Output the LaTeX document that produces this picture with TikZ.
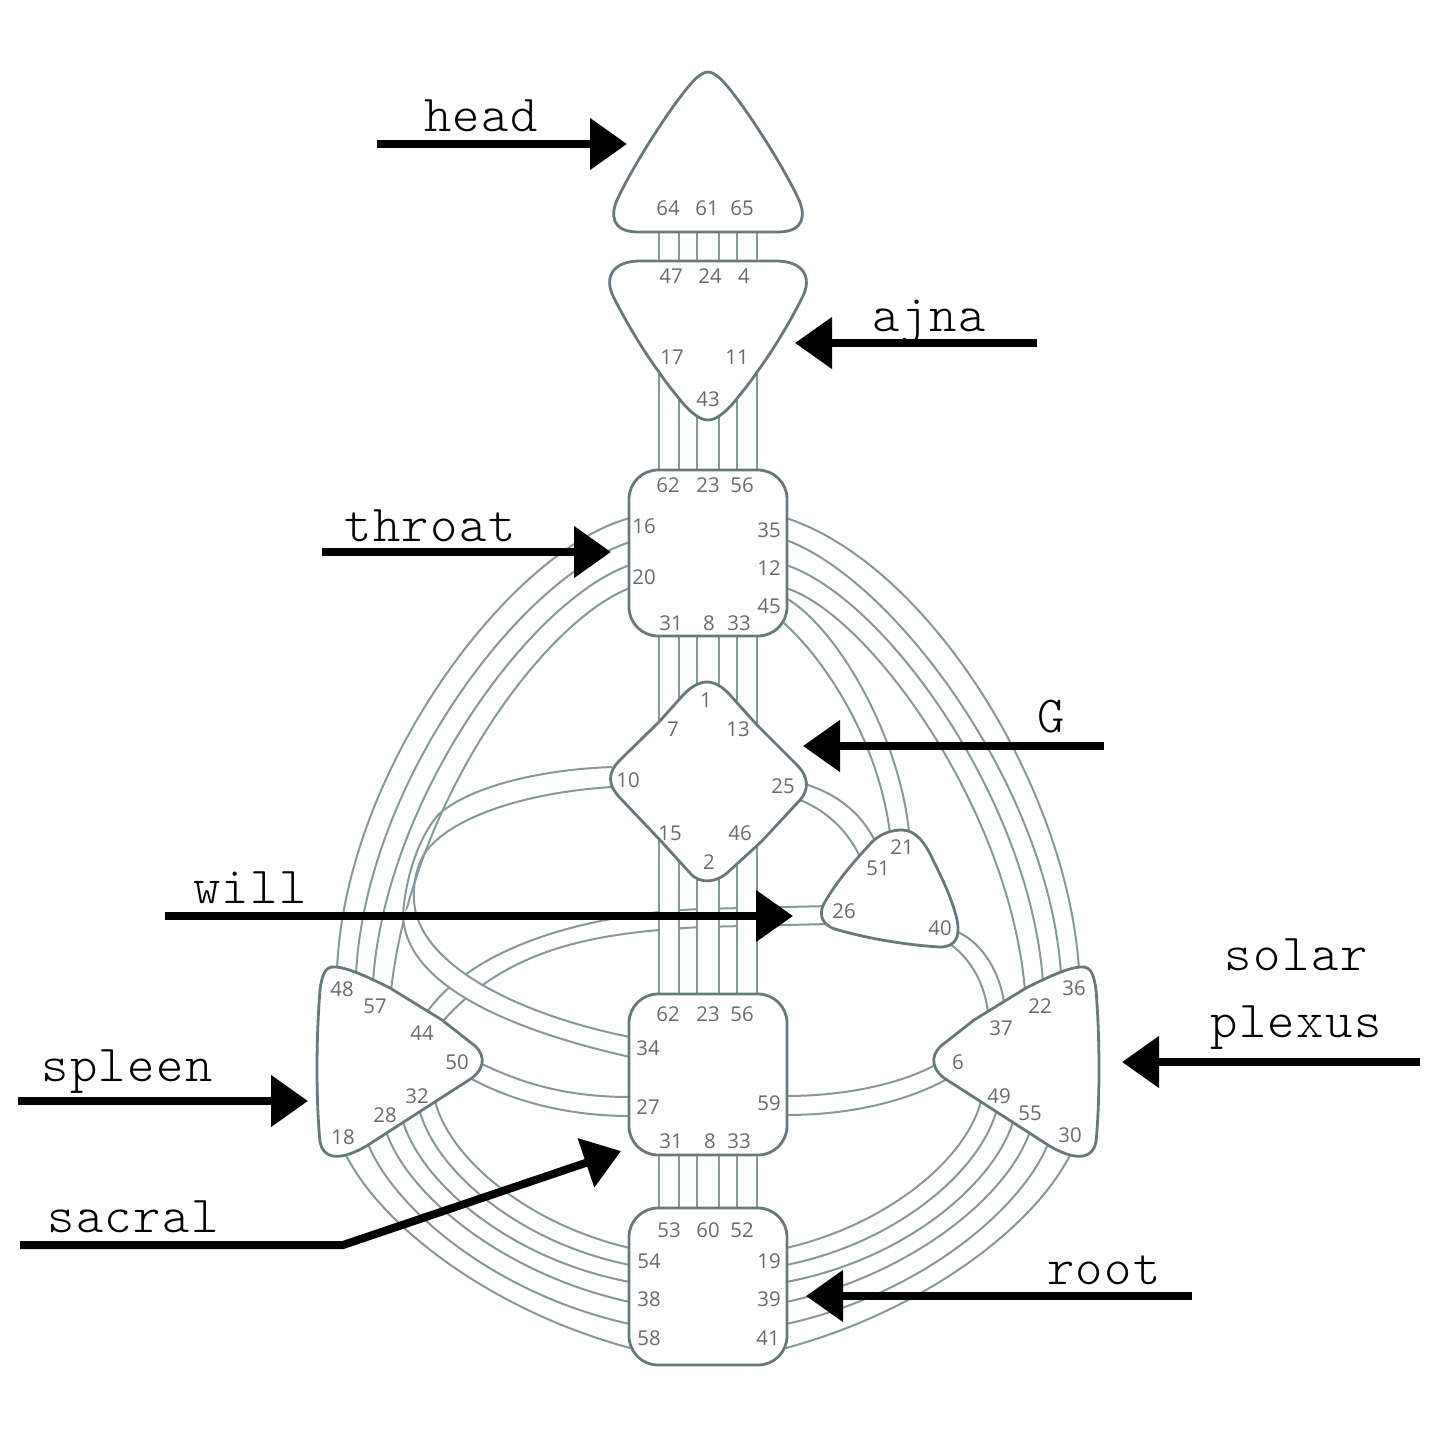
\documentclass[tikz,border=0pt]{standalone}
\usepackage{fontspec}
\setsansfont{Open Sans}
\newfontfamily\labelfont[LetterSpace=3]{Latin Modern Mono Light}
\usetikzlibrary{arrows.meta}
\definecolor{chan}{HTML}{84999B}
\definecolor{edge}{HTML}{667A7E}
\definecolor{num}{HTML}{666C6E}
\tikzset{
  channel/.style={draw=chan,line width=1pt},
  center/.style={draw=edge,line width=1.4pt,fill=white,line join=round},
  boxcenter/.style={center,rectangle,rounded corners=14.5pt,inner sep=0pt,minimum width=79pt},
  gate/.style={text=num,font=\sffamily\fontsize{10.2}{11}\selectfont,inner sep=0pt},
  tag/.style={font=\labelfont\fontsize{26}{33.5}\selectfont,text=black,inner sep=0pt,align=center},
  pointer/.style={draw=black,line width=4pt,-{Triangle[length=18.5pt,width=25pt]}}
}
\newcommand{\gt}[4]{\node[gate] (#1#4) at (#2,#3) {#4};}
\newcommand{\curve}[4]{\draw[channel] (#1) .. controls (#2) and (#3) .. (#4);}
\begin{document}
\begin{tikzpicture}[x=.5pt,y=-.5pt]
\useasboundingbox (0,0) rectangle (1440,1440);
% ---------- channel end points
% throat to spleen / solar
\coordinate (tl1) at (630,518); \coordinate (sl1) at (337,970);
\coordinate (tl2) at (630,542); \coordinate (sl2) at (356,975);
\coordinate (tl3) at (630,565); \coordinate (sl3) at (373,982);
\coordinate (tl4) at (630,588); \coordinate (sl4) at (391,991);
\coordinate (tr1) at (786,518); \coordinate (sr1) at (1079,970);
\coordinate (tr2) at (786,540); \coordinate (sr2) at (1061,975);
\coordinate (tr3) at (786,565); \coordinate (sr3) at (1043,982);
\coordinate (tr4) at (786,588); \coordinate (sr4) at (1025,991);
\coordinate (tr5) at (786,598); \coordinate (wa1) at (909,832);
\coordinate (tr6) at (784,623); \coordinate (wa2) at (890,833);
% G, will, solar, spleen, sacral
\coordinate (ga1) at (805,784); \coordinate (wb1) at (875,841);
\coordinate (ga2) at (800,800); \coordinate (wb2) at (860,857);
\coordinate (wc1) at (958,932); \coordinate (sc1) at (1004,1002);
\coordinate (wc2) at (950,944); \coordinate (sc2) at (988,1013);
\coordinate (sa1) at (786,1096); \coordinate (sd1) at (937,1064);
\coordinate (sa2) at (786,1115); \coordinate (sd2) at (947,1079);
\coordinate (pa1) at (480,1063); \coordinate (ca1) at (630,1097);
\coordinate (pa2) at (470,1078); \coordinate (ca2) at (630,1116);
\coordinate (wd1) at (830,906); \coordinate (wm1) at (700,909); \coordinate (pb1) at (427,1012);
\coordinate (wd2) at (830,924); \coordinate (wm2) at (700,927); \coordinate (pb2) at (442,1022);
% G to sacral loop
\coordinate (gl1) at (612,767); \coordinate (lm1) at (438,815); \coordinate (ln1) at (403,915); \coordinate (cl1) at (630,1057);
\coordinate (gl2) at (612,787); \coordinate (lm2) at (427,850); \coordinate (ln2) at (414,900); \coordinate (cl2) at (630,1037);
% spleen, solar to root
\coordinate (pc1) at (435,1101); \coordinate (rl1) at (630,1248);
\coordinate (pc2) at (420,1112); \coordinate (rl2) at (630,1265);
\coordinate (pc3) at (403,1122); \coordinate (rl3) at (630,1282);
\coordinate (pc4) at (387,1134); \coordinate (rl4) at (630,1302);
\coordinate (pc5) at (368,1144); \coordinate (rl5) at (630,1324);
\coordinate (pc6) at (345,1153); \coordinate (rl6) at (630,1348);
\coordinate (qc1) at (981,1101); \coordinate (rr1) at (786,1248);
\coordinate (qc2) at (996,1112); \coordinate (rr2) at (786,1265);
\coordinate (qc3) at (1013,1122); \coordinate (rr3) at (786,1282);
\coordinate (qc4) at (1029,1134); \coordinate (rr4) at (786,1302);
\coordinate (qc5) at (1048,1144); \coordinate (rr5) at (786,1324);
\coordinate (qc6) at (1071,1153); \coordinate (rr6) at (786,1348);
% vertical channels
\foreach \i/\x in {1/659,2/679,3/697,4/719,5/737,6/757}{
  \coordinate (va\i) at (\x,232);
  \coordinate (vb\i) at (\x,261);
  \coordinate (vc\i) at (\x,340);
  \coordinate (vd\i) at (\x,471);
  \coordinate (ve\i) at (\x,635);
  \coordinate (vf\i) at (\x,995);
  \coordinate (vg\i) at (\x,1154);
  \coordinate (vh\i) at (\x,1209);
}
% ---------- arcs
\curve{tl1}{510,550}{345,770}{sl1}
\curve{tl2}{520,577}{365,785}{sl2}
\curve{tl3}{530,600}{385,800}{sl3}
\curve{tl4}{545,620}{412,800}{sl4}
\curve{tr1}{930,565}{1068,790}{sr1}
\curve{tr2}{895,580}{1050,790}{sr2}
\curve{tr3}{885,598}{1030,800}{sr3}
\curve{tr4}{870,615}{1010,810}{sr4}
\curve{tr5}{840,630}{900,740}{wa1}
\curve{tr6}{825,660}{878,740}{wa2}
\curve{ga1}{840,795}{862,815}{wb1}
\curve{ga2}{830,812}{850,835}{wb2}
\curve{wc1}{985,945}{1000,975}{sc1}
\curve{wc2}{972,960}{985,985}{sc2}
\curve{sa1}{850,1096}{905,1082}{sd1}
\curve{sa2}{860,1115}{915,1097}{sd2}
\curve{pa1}{525,1085}{570,1097}{ca1}
\curve{pa2}{510,1100}{565,1116}{ca2}
\curve{pc1}{450,1160}{530,1225}{rl1}
\curve{pc2}{437,1172}{520,1243}{rl2}
\curve{pc3}{423,1185}{512,1260}{rl3}
\curve{pc4}{410,1197}{505,1275}{rl4}
\curve{pc5}{395,1210}{497,1295}{rl5}
\curve{pc6}{380,1225}{490,1310}{rl6}
\curve{qc1}{966,1160}{886,1225}{rr1}
\curve{qc2}{979,1172}{896,1243}{rr2}
\curve{qc3}{993,1185}{904,1260}{rr3}
\curve{qc4}{1006,1197}{911,1275}{rr4}
\curve{qc5}{1021,1210}{919,1295}{rr5}
\curve{qc6}{1036,1225}{926,1310}{rr6}
% will to spleen
\draw[channel] (wd1) -- (wm1) .. controls (590,914) and (475,945) .. (pb1);
\draw[channel] (wd2) -- (wm2) .. controls (600,933) and (510,945) .. (pb2);
% G to sacral band, over the will channel
\fill[white] (ln1) .. controls (405,985) and (510,1030) .. (cl1) -- (cl2) .. controls (520,1015) and (417,965) .. (ln2) -- cycle;
\draw[channel] (gl1) .. controls (530,770) and (465,790) .. (lm1) .. controls (418,838) and (405,880) .. (ln1) .. controls (405,985) and (510,1030) .. (cl1);
\draw[channel] (gl2) .. controls (530,792) and (455,815) .. (lm2) .. controls (418,862) and (413,880) .. (ln2) .. controls (417,965) and (520,1015) .. (cl2);
% vertical channels with their white strips
\fill[white] (ve1) rectangle (vf2);
\fill[white] (ve3) rectangle (vf4);
\fill[white] (ve5) rectangle (vf6);
\foreach \i in {1,...,6}{
  \draw[channel] (va\i) -- (vb\i);
  \draw[channel] (vc\i) -- (vd\i);
  \draw[channel] (ve\i) -- (vf\i);
  \draw[channel] (vg\i) -- (vh\i);
}
% ---------- centres
\path[center] (708,72) .. controls (716,72) and (726,84) .. (735,96) .. controls (755,122) and (785,170) .. (798,198)
  .. controls (806,214) and (805,232) .. (778,232) -- (638,232) .. controls (611,232) and (610,214) .. (618,198)
  .. controls (631,170) and (661,122) .. (681,96) .. controls (690,84) and (700,72) .. (708,72) -- cycle;
\path[center] (640,261) -- (776,261) .. controls (803,261) and (813,277) .. (802,298) .. controls (790,322) and (772,352) .. (757,372)
  .. controls (750,383) and (742,392) .. (735,401) .. controls (725,413) and (716,420) .. (708,420)
  .. controls (700,420) and (691,413) .. (681,401) .. controls (674,392) and (666,383) .. (659,372)
  .. controls (644,352) and (626,322) .. (614,298) .. controls (603,277) and (613,261) .. (640,261) -- cycle;
\node[boxcenter,minimum height=83pt] (throat) at (708,553) {};
\path[center] (707,682) .. controls (714,682) and (722,686) .. (730,695) -- (757,725) -- (797,765)
  .. controls (809,777) and (809,790) .. (800,800) -- (761,842) -- (727,873)
  .. controls (717,882) and (700,885) .. (690,873) -- (660,840) -- (622,800)
  .. controls (607,785) and (607,773) .. (620,760) -- (659,722) -- (684,694)
  .. controls (692,686) and (700,682) .. (707,682) -- cycle;
\path[center] (902,830) .. controls (915,830) and (925,842) .. (933,860) .. controls (942,878) and (950,895) .. (955,912)
  .. controls (962,935) and (957,947) .. (940,947) .. controls (905,945) and (865,938) .. (835,929)
  .. controls (820,924) and (818,912) .. (826,900) .. controls (838,880) and (855,860) .. (873,841)
  .. controls (882,833) and (892,830) .. (902,830) -- cycle;
\path[center] (333,967) .. controls (345,966) and (370,978) .. (390,988) -- (442,1020) -- (470,1042)
  .. controls (485,1052) and (487,1066) .. (472,1078) -- (368,1145)
  .. controls (350,1156) and (325,1165) .. (320,1142) .. controls (316,1100) and (316,1040) .. (320,990)
  .. controls (322,975) and (325,967) .. (333,967) -- cycle;
\path[center] (1083,967) .. controls (1071,966) and (1046,978) .. (1026,988) -- (974,1020) -- (946,1042)
  .. controls (931,1052) and (929,1066) .. (944,1078) -- (1048,1145)
  .. controls (1066,1156) and (1091,1165) .. (1096,1142) .. controls (1100,1100) and (1100,1040) .. (1096,990)
  .. controls (1094,975) and (1091,967) .. (1083,967) -- cycle;
\node[boxcenter,minimum height=80.5pt] (sacral) at (708,1074.5) {};
\node[boxcenter,minimum height=78.5pt] (root) at (708,1286.5) {};
% ---------- gate numbers
\gt{h}{668}{208}{64}\gt{h}{707}{208}{61}\gt{h}{742}{208}{65}
\gt{a}{671}{276}{47}\gt{a}{710}{276}{24}\gt{a}{744}{276}{4}
\gt{a}{672}{357}{17}\gt{a}{737}{357}{11}\gt{a}{708}{399}{43}
\gt{t}{668}{485}{62}\gt{t}{708}{485}{23}\gt{t}{742}{485}{56}
\gt{t}{644}{526}{16}\gt{t}{644}{577}{20}
\gt{t}{769}{530}{35}\gt{t}{769}{568}{12}\gt{t}{769}{606}{45}
\gt{t}{671}{623}{31}\gt{t}{709}{623}{8}\gt{t}{739}{623}{33}
\gt{g}{706}{700}{1}\gt{g}{673}{729}{7}\gt{g}{738}{729}{13}
\gt{g}{628}{780}{10}\gt{g}{783}{786}{25}
\gt{g}{670}{833}{15}\gt{g}{740}{833}{46}\gt{g}{709}{862}{2}
\gt{w}{902}{847}{21}\gt{w}{878}{868}{51}\gt{w}{844}{911}{26}\gt{w}{940}{928}{40}
\gt{p}{342}{989}{48}\gt{p}{375}{1006}{57}\gt{p}{422}{1033}{44}\gt{p}{457}{1062}{50}
\gt{p}{417}{1096}{32}\gt{p}{385}{1115}{28}\gt{p}{343}{1137}{18}
\gt{s}{1074}{988}{36}\gt{s}{1040}{1006}{22}\gt{s}{1001}{1028}{37}\gt{s}{958}{1062}{6}
\gt{s}{999}{1096}{49}\gt{s}{1030}{1113}{55}\gt{s}{1070}{1135}{30}
\gt{c}{668}{1014}{62}\gt{c}{708}{1014}{23}\gt{c}{742}{1014}{56}
\gt{c}{648}{1048}{34}\gt{c}{648}{1107}{27}\gt{c}{769}{1103}{59}
\gt{c}{671}{1141}{31}\gt{c}{710}{1141}{8}\gt{c}{739}{1141}{33}
\gt{r}{669}{1230}{53}\gt{r}{708}{1230}{60}\gt{r}{742}{1230}{52}
\gt{r}{649}{1261}{54}\gt{r}{649}{1299}{38}\gt{r}{649}{1338}{58}
\gt{r}{769}{1261}{19}\gt{r}{769}{1299}{39}\gt{r}{768}{1338}{41}
% ---------- labels and pointers
\node[tag] (lhead) at (481,116) {head};
\node[tag] (lajna) at (929,322) {ajna};
\node[tag] (lthroat) at (430,526) {throat};
\node[tag] (lg) at (1051,717) {G};
\node[tag] (lwill) at (250,888) {will};
\node[tag] (lsolar) at (1296,994) {solar\\plexus};
\node[tag] (lspleen) at (127,1072) {spleen};
\node[tag] (lsacral) at (133,1217) {sacral};
\node[tag] (lroot) at (1104,1270) {root};
\coordinate (ah0) at (377,144); \coordinate (ah1) at (627,144);
\coordinate (aa0) at (1037,343); \coordinate (aa1) at (795,343);
\coordinate (at0) at (322,552); \coordinate (at1) at (611,552);
\coordinate (ag0) at (1104,746); \coordinate (ag1) at (803,746);
\coordinate (aw0) at (165,916); \coordinate (aw1) at (793,916);
\coordinate (as0) at (1420,1062); \coordinate (as1) at (1122,1062);
\coordinate (ap0) at (18,1101); \coordinate (ap1) at (308,1101);
\coordinate (ac0) at (20,1245); \coordinate (acm) at (343,1245); \coordinate (ac1) at (621,1151);
\coordinate (ar0) at (1192,1296); \coordinate (ar1) at (806,1296);
\draw[pointer] (ah0) -- (ah1);
\draw[pointer] (aa0) -- (aa1);
\draw[pointer] (at0) -- (at1);
\draw[pointer] (ag0) -- (ag1);
\draw[pointer] (aw0) -- (aw1);
\draw[pointer] (as0) -- (as1);
\draw[pointer] (ap0) -- (ap1);
\draw[pointer] (ac0) -- (acm) -- (ac1);
\draw[pointer] (ar0) -- (ar1);
\end{tikzpicture}
\end{document}
